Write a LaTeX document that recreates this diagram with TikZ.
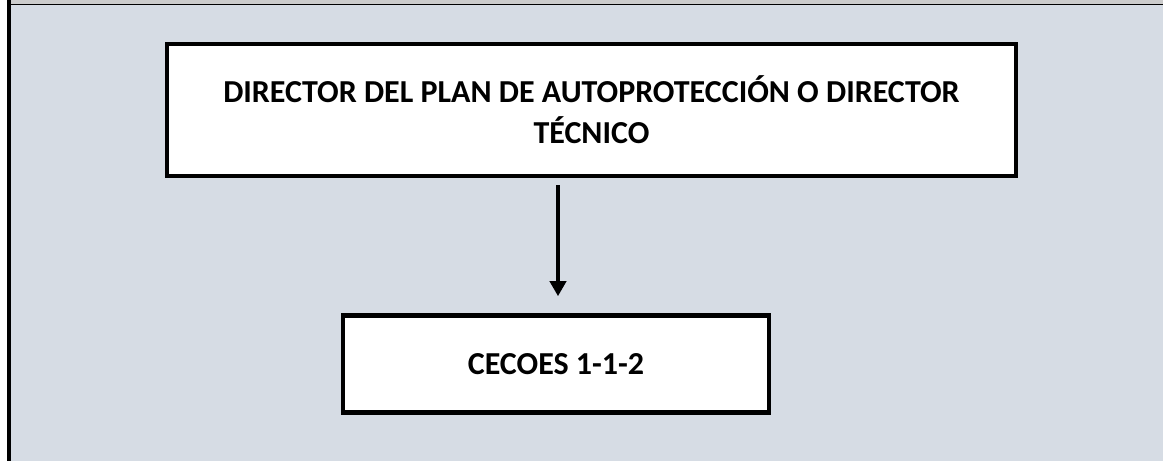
\documentclass[tikz,border=0pt]{standalone}
\usepackage{fontspec}
\setmainfont{Carlito}
\usetikzlibrary{positioning,arrows.meta}
\definecolor{fondogris}{RGB}{214,220,228}
\definecolor{franjagris}{RGB}{204,204,204}

\begin{document}
\begin{tikzpicture}[
				x=0.5pt, y=-0.5pt,
				node distance=67.5pt,
				caja/.style={rectangle, draw, line width=2.2pt, fill=white, align=center, font=\fontsize{16}{20.5}\selectfont\bfseries},
				flecha/.style={-{Triangle[width=8pt,length=7.5pt]}, line width=2.4pt}
				]
				\useasboundingbox (0,0) rectangle (1163,461);
				\fill[fondogris] (11,5) rectangle (1163,461);
				\fill[franjagris] (11,0) rectangle (1163,4);
				\draw[line width=0.75pt] (7,4.7) -- (1163,4.7);
				\draw[line width=2pt] (9,0) -- (9,461);
				
				\node[caja, minimum width=424.5pt, minimum height=66pt] (director) at (591.5,110) {DIRECTOR DEL PLAN DE AUTOPROTECCIÓN O DIRECTOR\\TÉCNICO};
				\node[caja, minimum width=213pt, minimum height=48.5pt, below=of director, xshift=-17.75pt] (cecoes) {CECOES 1-1-2};
				
				\draw[flecha, shorten <=3.5pt, shorten >=8.5pt] ([xshift=1pt]director.south -| cecoes.north) -- ([xshift=1pt]cecoes.north);
			\end{tikzpicture}
\end{document}
